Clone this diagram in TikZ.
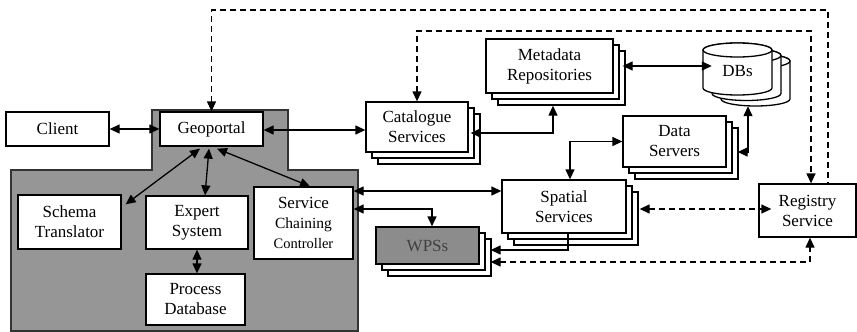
\documentclass[tikz,border=0pt]{standalone}
\usepackage{fontspec}
\setmainfont{Liberation Serif}
\usetikzlibrary{arrows.meta,shadows}
\definecolor{panelgray}{RGB}{150,150,150}
\definecolor{wpsgray}{RGB}{140,140,140}
\begin{document}
\begin{tikzpicture}[x=1pt,y=-1pt,
  box/.style={draw=black,fill=white,line width=1.3pt,inner sep=0pt,align=center,
    font=\fontsize{17}{20}\selectfont},
  stackbox/.style={box,
    general shadow={shadow xshift=12pt,shadow yshift=-12pt,fill=white,draw=black,line width=1.3pt},
    general shadow={shadow xshift=6pt,shadow yshift=-6pt,fill=white,draw=black,line width=1.3pt}},
  conn/.style={line width=1.3pt,{Triangle[length=10pt,width=9pt]}-{Triangle[length=10pt,width=9pt]}},
  conn1/.style={line width=1.3pt,-{Triangle[length=10pt,width=9pt]}},
  dconn/.style={conn,dash pattern=on 6pt off 4pt},
  dline/.style={line width=1.3pt,dash pattern=on 6pt off 4pt},
  cyl/.style={draw=black,fill=white,line width=1.3pt}]
\useasboundingbox (0,0) rectangle (857,332);

% grey panel
\draw[fill=panelgray,draw=black!80,line width=1.6pt]
  (152,110) -- (288,110) -- (288,170) -- (358,170) -- (358,331) -- (11,331) -- (11,170) -- (152,170) -- cycle;

% nodes
\node[box,minimum width=103pt,minimum height=34pt] (client) at (57.5,129) {Client};
\node[box,minimum width=103pt,minimum height=34pt] (geo) at (211.5,129) {Geoportal};
\node[box,minimum width=103pt,minimum height=54pt] (schema) at (69.5,222) {Schema\\Translator};
\node[box,minimum width=102pt,minimum height=53pt] (expert) at (197,222.5) {Expert\\System};
\node[box,minimum width=99pt,minimum height=72pt] (scc) at (303.5,223)
  {Service\\{\fontsize{15.5}{19}\selectfont Chaining}\\{\fontsize{14.5}{18}\selectfont Controller}};
\node[box,minimum width=99pt,minimum height=51pt] (proc) at (195.5,299.5) {Process\\Database};
\node[stackbox,minimum width=102pt,minimum height=50pt] (cat) at (417,127) {Catalogue\\Services};
\node[stackbox,minimum width=127pt,minimum height=54pt] (meta) at (549.5,66) {Metadata\\Repositories};
\node[stackbox,minimum width=103pt,minimum height=51pt] (data) at (674.5,141.5) {Data\\Servers};
\node[stackbox,minimum width=124pt,minimum height=53pt] (spat) at (564,206.5) {Spatial\\Services};
\node[stackbox,fill=wpsgray,text=black!75,minimum width=103pt,minimum height=37pt] (wps) at (427.5,245.5) {WPSs};
\node[box,minimum width=97pt,minimum height=53pt] (reg) at (807.5,210.5) {Registry\\Service};

% DB cylinders
\foreach \dx/\dy in {18/11,9/5.5,0/0}{
  \draw[cyl] (703+\dx,50+\dy) -- (703+\dx,88+\dy)
     arc[start angle=180,end angle=0,x radius=34.5,y radius=7]
     -- (772+\dx,50+\dy)
     arc[start angle=0,end angle=-180,x radius=34.5,y radius=7] -- cycle;
  \draw[cyl] (737.5+\dx,50+\dy) ellipse[x radius=34.5,y radius=7];
}
\node[inner sep=0pt,minimum width=69pt,minimum height=52pt,font=\fontsize{17}{20}\selectfont] (dbs) at (737.5,71) {DBs};

\coordinate (lvl1) at (0,10);
\coordinate (lvl2) at (0,31);

% connectors
\draw[conn] (client.east) -- (geo.west);
\draw[conn] ([yshift=-1pt]geo.east) -- ([yshift=-1pt]geo.east -| cat.west);
\draw[conn] ([xshift=-11.5pt,yshift=-2pt]geo.south) -- ([xshift=4pt,yshift=-10pt]schema.north east);
\draw[conn] ([xshift=-2.5pt,yshift=-2pt]geo.south) -- ([xshift=8pt]expert.north);
\draw[conn] ([xshift=5.5pt,yshift=-2pt]geo.south) -- ([xshift=6.5pt]scc.north);
\draw[conn] (expert.south) -- (expert.south |- proc.north);
\draw[conn] ([xshift=2pt,yshift=-6pt]cat.east) -| ([xshift=3.5pt,yshift=-12pt]meta.south);
\draw[conn] ([xshift=9pt]meta.east) -- ([xshift=9pt]meta.east -| dbs.west);
\draw[conn] (data.west) -| ([xshift=6pt]spat.north);
\draw[conn] ([xshift=11pt,yshift=-10.5pt]data.east) -| ([xshift=10.5pt,yshift=-9pt]dbs.south);
\draw[conn] ([yshift=32pt]scc.east) -- ([yshift=32pt]scc.east -| spat.west);
\draw[conn] ([yshift=14pt]scc.east) -| ([xshift=4.5pt]wps.north);
\draw[conn1] ([xshift=4pt]spat.south) |- ([xshift=11pt,yshift=-4.5pt]wps.east);
\draw[dconn] ([xshift=11pt,yshift=-16.5pt]wps.east) -| ([xshift=2.5pt]reg.south);
\draw[dconn] ([xshift=13pt,yshift=-2.5pt]spat.east) -- ([xshift=13pt,yshift=-2.5pt]spat.east -| reg.west);
\draw[dline,{Triangle[length=10pt,width=9pt]}-] (geo.north) -- (geo.north |- lvl1) -| ([xshift=20.5pt]reg.north);
\draw[dconn] (cat.north) -- (cat.north |- lvl2) -| ([xshift=3.5pt]reg.north);
\end{tikzpicture}
\end{document}
